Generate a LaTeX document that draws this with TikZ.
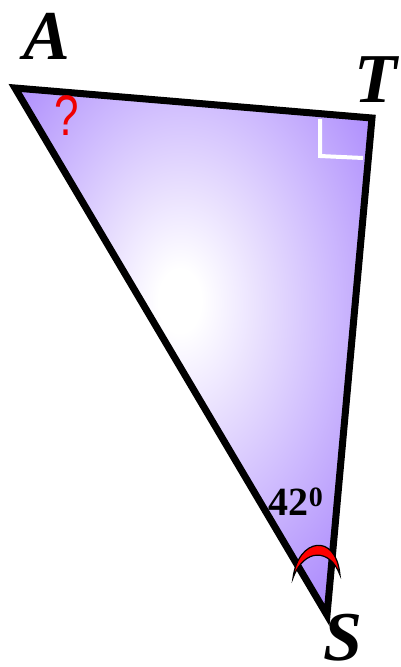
\documentclass[tikz,border=0pt]{standalone}
\usepackage{fontspec}
\setmainfont{Liberation Serif}
\newfontfamily\qfont{Liberation Sans}
\definecolor{purp}{RGB}{148,105,252}
\definecolor{redq}{RGB}{240,0,0}
\pgfdeclareradialshading{trishade}{\pgfpoint{-2bp}{5bp}}{color(0bp)=(white); color(3bp)=(white); color(42bp)=(purp); color(80bp)=(purp)}
\tikzset{
  vlabel/.style={font=\fontsize{70}{70}\selectfont\bfseries\itshape, inner sep=0pt},
  edge/.style={line width=7pt, line join=miter},
}
\begin{document}
\begin{tikzpicture}[x=1pt,y=-1pt]
\useasboundingbox (0,0) rectangle (400,667);
\coordinate (A) at (15,88);
\coordinate (T) at (372,118);
\coordinate (S) at (327,615);
\shade[shading=trishade] (A) -- (T) -- (S) -- cycle;
\draw[edge] (A) -- (T) -- (S) -- cycle;
% right angle mark
\coordinate (r1) at (320,119);
\coordinate (r2) at (320,156);
\coordinate (r3) at (363,158);
\draw[white, line width=4pt] (r1) -- (r2) -- (r3);
% angle crescent at S
\coordinate (c1) at (293,578);
\coordinate (c2) at (340,575);
\filldraw[fill=red, draw=black, line width=1.2pt] (c1) .. controls (298,538) and (336,532) .. (c2) .. controls (330,548) and (304,548) .. (c1) -- cycle;
% labels
\node[vlabel] (lA) at (47,36) {A};
\node[vlabel] (lT) at (376,80) {T};
\node[vlabel, anchor=base] (lS) at (343,660) {S};
\node[inner sep=0pt, font=\fontsize{40}{40}\selectfont\bfseries] (ang) at (296,502) {42$^{\mathbf{0}}$};
\node[inner sep=0pt, text=redq, font=\qfont\fontsize{44}{44}\selectfont, yscale=1.3, transform shape] (q) at (67,116) {?};
\end{tikzpicture}
\end{document}
